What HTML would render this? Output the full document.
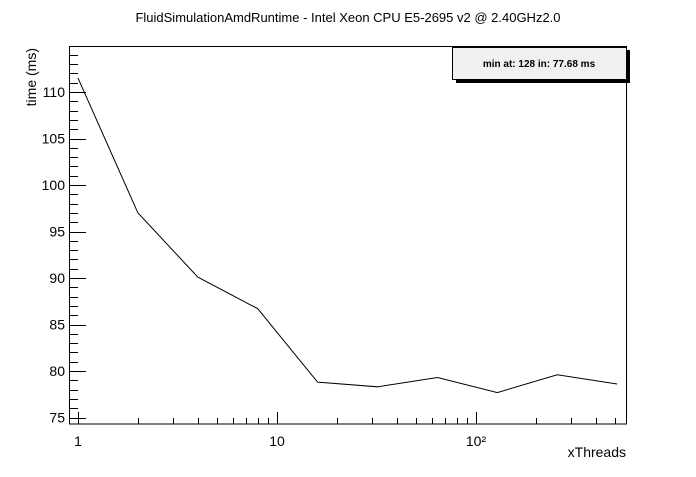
<!DOCTYPE html>
<html><head><meta charset="utf-8"><style>
body{margin:0;background:#fff;}
svg text{font-family:"Liberation Sans",sans-serif;}
</style></head><body>
<svg width="696" height="472" viewBox="0 0 696 472">
<rect width="696" height="472" fill="#fff"/>
<text x="348" y="22" text-anchor="middle" font-size="13">FluidSimulationAmdRuntime - Intel Xeon CPU E5-2695 v2 @ 2.40GHz2.0</text>
<rect x="69.5" y="46.5" width="557" height="377.5" fill="none" stroke="#000"/>
<g id="axes"></g>
<polyline id="series" fill="none" stroke="#000" stroke-width="1"/>
<text x="36" y="48" transform="rotate(-90 36 48)" text-anchor="end" font-size="14">time (ms)</text>
<text x="626" y="457" text-anchor="end" font-size="14">xThreads</text>
<rect x="456" y="50" width="174" height="33" fill="#000"/>
<rect x="452.5" y="47.5" width="174" height="32" fill="#f0f0f0" stroke="#000"/>
<text x="539" y="67" text-anchor="middle" font-size="10" font-weight="bold">min at: 128 in: 77.68 ms</text>
</svg>
<script>
const threads=[1,2,4,8,16,32,64,128,256,512];
const times=[111.5,97.0,90.1,86.7,78.8,78.3,79.3,77.68,79.6,78.6];
const yTicks=[75,80,85,90,95,100,105,110];
const xDecades=[1,10,100];
const xLabels=["1","10","10²"];
function xs(v){return 78+199*Math.log10(v);}
function ys(v){return 92+(110-v)*9.3;}
const NS="http://www.w3.org/2000/svg";
const g=document.getElementById('axes');
function ln(x1,y1,x2,y2,name){const l=document.createElementNS(NS,'line');l.setAttribute('x1',x1);l.setAttribute('y1',y1);l.setAttribute('x2',x2);l.setAttribute('y2',y2);l.setAttribute('stroke','#000');


g.appendChild(l);}
function tx(x,y,s,anchor,name){const t=document.createElementNS(NS,'text');t.setAttribute('x',x);t.setAttribute('y',y);t.setAttribute('font-size','14');t.setAttribute('text-anchor',anchor);t.textContent=s;


g.appendChild(t);}
for(let v=75;v<=114;v++){const y=Math.round(ys(v))+0.5;ln(70,y,v%5===0?86:78,y,'y-tick');}
yTicks.forEach(v=>tx(65,ys(v)+5,String(v),'end','y-tick-label'));
for(let d=1;d<=100;d*=10){for(let k=1;k<10;k++){const v=d*k;if(v>567)break;const x=Math.round(xs(v))+0.5;ln(x,424,x,k===1?412:418,'x-tick');}}
xDecades.forEach((v,i)=>tx(xs(v),446,xLabels[i],'middle','x-tick-label'));
document.getElementById('series').setAttribute('points',threads.map((t,i)=>xs(t)+','+ys(times[i])).join(' '));
</script>
</body></html>
